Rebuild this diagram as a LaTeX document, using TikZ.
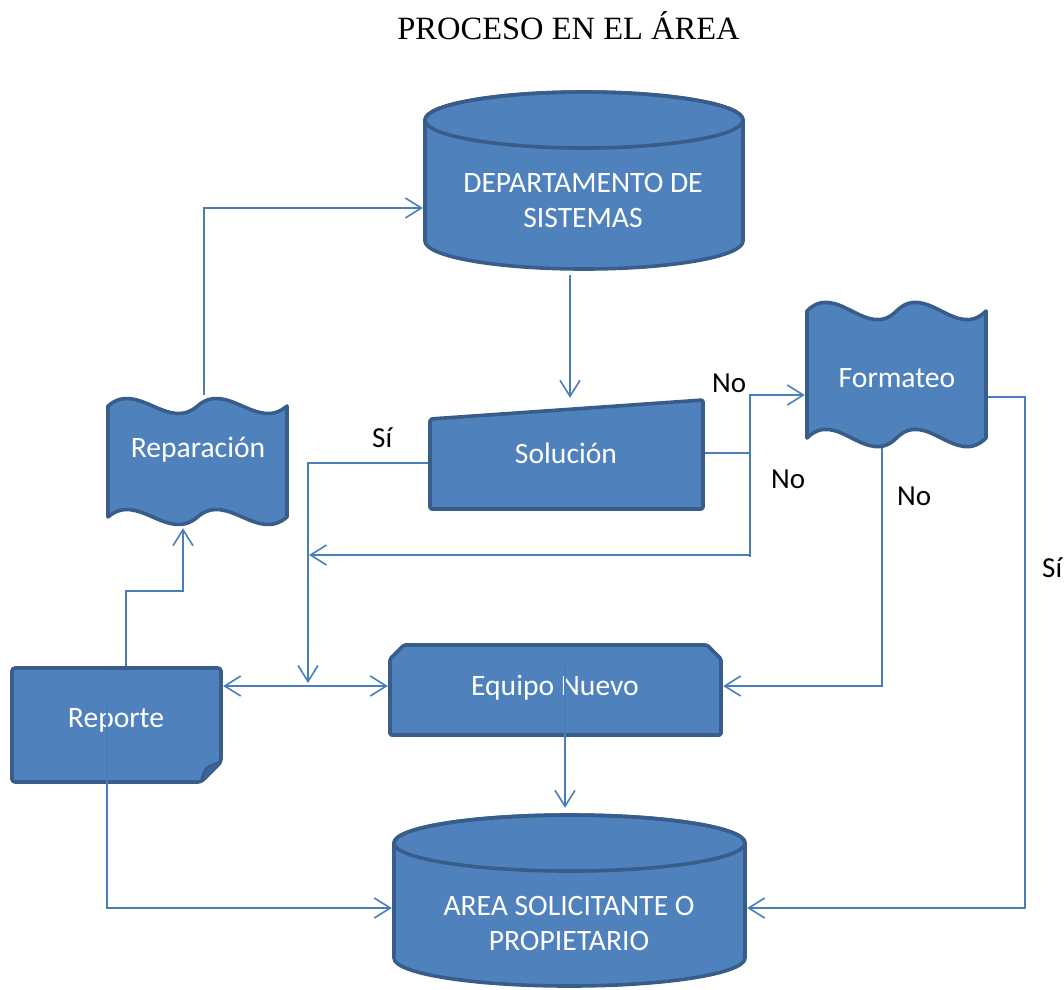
\documentclass[tikz,border=0pt]{standalone}
\usepackage{fontspec}
\setmainfont{Carlito}
\newfontfamily\titlefont{Liberation Serif}
\usetikzlibrary{arrows.meta}
\definecolor{shapefill}{HTML}{4F81BD}
\definecolor{shapeline}{HTML}{385D8A}
\definecolor{connline}{HTML}{4A7EBB}
\tikzset{
  shp/.style={fill=shapefill,draw=shapeline,line width=3.6pt,line join=round},
  lbl/.style={text=white,font=\fontsize{29.6}{35}\selectfont,align=center,inner sep=0pt},
  anc/.style={inner sep=0pt,draw=none,fill=none},
  conn/.style={draw=connline,line width=1.6pt},
  arr/.style={conn,-{Straight Barb[length=16pt,width=20pt]}},
  darr/.style={conn,{Straight Barb[length=16pt,width=20pt]}-{Straight Barb[length=16pt,width=20pt]}},
  note/.style={text=black,font=\fontsize{29}{35}\selectfont,inner sep=0pt,anchor=base west}
}
\begin{document}
\begin{tikzpicture}[x=1pt,y=-1pt]
\useasboundingbox (0,0) rectangle (1064,989);

% title
\node[font=\titlefont\fontsize{32.5}{38}\selectfont,inner sep=0pt,anchor=base] (title) at (568.5,39) {PROCESO EN EL ÁREA};

% ---- shapes ----
% Departamento de sistemas (cylinder)
\path[shp] (425,120) arc[start angle=180,end angle=360,x radius=159,y radius=28]
  -- (743,241) arc[start angle=0,end angle=180,x radius=159,y radius=28] -- cycle;
\draw[shp,fill=none] (584,120) ellipse[x radius=159,y radius=28];
\node[anc,minimum width=322pt,minimum height=185pt] (dep) at (584,182.5) {};
\node[lbl] (dept) at (583,200.3) {DEPARTAMENTO DE\\SISTEMAS};

% Solucion (manual input)
\path[shp,rounded corners=2pt] (430,419) -- (703,400) -- (703,509) -- (430,509) -- cycle;
\node[anc,minimum width=277pt,minimum height=113pt] (sol) at (566.5,454.5) {};
\node[lbl,anchor=base] (solt) at (566,463) {Solución};

% Formateo (double wave)
\path[shp] (807,311) .. controls (836.8,281) and (866.7,341) .. (896.5,311)
  .. controls (926.3,281) and (956.2,341) .. (986,311) -- (986,438)
  .. controls (956.2,468) and (926.3,408) .. (896.5,438)
  .. controls (866.7,468) and (836.8,408) .. (807,438) -- cycle;
\node[anc,minimum width=183pt,minimum height=148pt] (frm) at (896.5,374) {};
\node[lbl,anchor=base] (frmt) at (897,387) {Formateo};

% Reparacion (double wave)
\path[shp] (108,406) .. controls (137.8,380) and (167.7,432) .. (197.5,406)
  .. controls (227.3,380) and (257.2,432) .. (287,406) -- (287,517)
  .. controls (257.2,543) and (227.3,491) .. (197.5,517)
  .. controls (167.7,543) and (137.8,491) .. (108,517) -- cycle;
\node[anc,minimum width=183pt,minimum height=133pt] (rep) at (197.5,461.5) {};
\node[lbl,anchor=base] (rept) at (198,457) {Reparación};

% Reporte (folded corner)
\path[shp,rounded corners=3pt] (12,668) -- (221,668) -- (221,762) -- (201,782) -- (12,782) -- cycle;
\path[draw=shapeline,fill=shapeline!75!shapefill,line width=2.4pt,line join=round]
  (201,782) .. controls (203,774) and (205,769) .. (208,767) .. controls (212,765) and (216,763) .. (221,762);
\node[anc,minimum width=213pt,minimum height=118pt] (rpt) at (116.5,725) {};
\node[lbl,anchor=base] (rptt) at (116,727) {Reporte};

% Equipo Nuevo (snipped top corners)
\path[shp,rounded corners=1.5pt] (404,645) -- (707,645) -- (721,659) -- (721,735) -- (390,735) -- (390,659) -- cycle;
\node[anc,minimum width=335pt,minimum height=94pt] (eqp) at (555.5,690) {};
\node[lbl,anchor=base] (eqpt) at (555,695) {Equipo Nuevo};

% Area solicitante (cylinder)
\path[shp] (394,843) arc[start angle=180,end angle=360,x radius=175.5,y radius=28]
  -- (745,958) arc[start angle=0,end angle=180,x radius=175.5,y radius=28] -- cycle;
\draw[shp,fill=none] (569.5,843) ellipse[x radius=175.5,y radius=28];
\node[anc,minimum width=355pt,minimum height=180pt] (area) at (569.5,898) {};
\node[lbl] (areat) at (569,923.3) {AREA SOLICITANTE O\\PROPIETARIO};

% ---- helper coordinates ----
\coordinate (j1) at (750,453);
\coordinate (j2) at (309,555);
\coordinate (j3) at (308,683);
\coordinate (eqin) at (565,662);
\coordinate (rptin) at (107,702);

% ---- connectors ----
\draw[arr] (rep.north -| 204,0) |- (dep.west |- 0,208);
\draw[arr] (dep.south -| 570,0) -- (sol.north -| 570,0);
\draw[arr] (sol.west |- 0,463) -| (j3);
\draw[arr] (sol.east |- 0,453) -| (750,395) -- (frm.west |- 0,395);
\draw[arr] (j1) -- (750,557) (750,555) -- (j2);
\draw[arr] (frm.south -| 882,0) |- (eqp.east |- 0,686);
\draw[arr] (frm.east |- 0,397) -- (1025,397) |- (area.east |- 0,908);
\draw[arr] (rpt.north -| 126,0) |- (183,591) -- (rep.south -| 183,0);
\draw[darr] (rpt.east |- 0,686) -- (eqp.west |- 0,686);
\draw[arr] (eqin) -- (area.north -| 565,0);
\draw[arr] (rptin) |- (area.west |- 0,908);

% ---- labels ----
\node[note] (si1) at (372,447) {Sí};
\node[note] (no1) at (712,392) {No};
\node[note] (no2) at (771,488) {No};
\node[note] (no3) at (897,505) {No};
\node[note] (si2) at (1042,577) {Sí};
\end{tikzpicture}
\end{document}
